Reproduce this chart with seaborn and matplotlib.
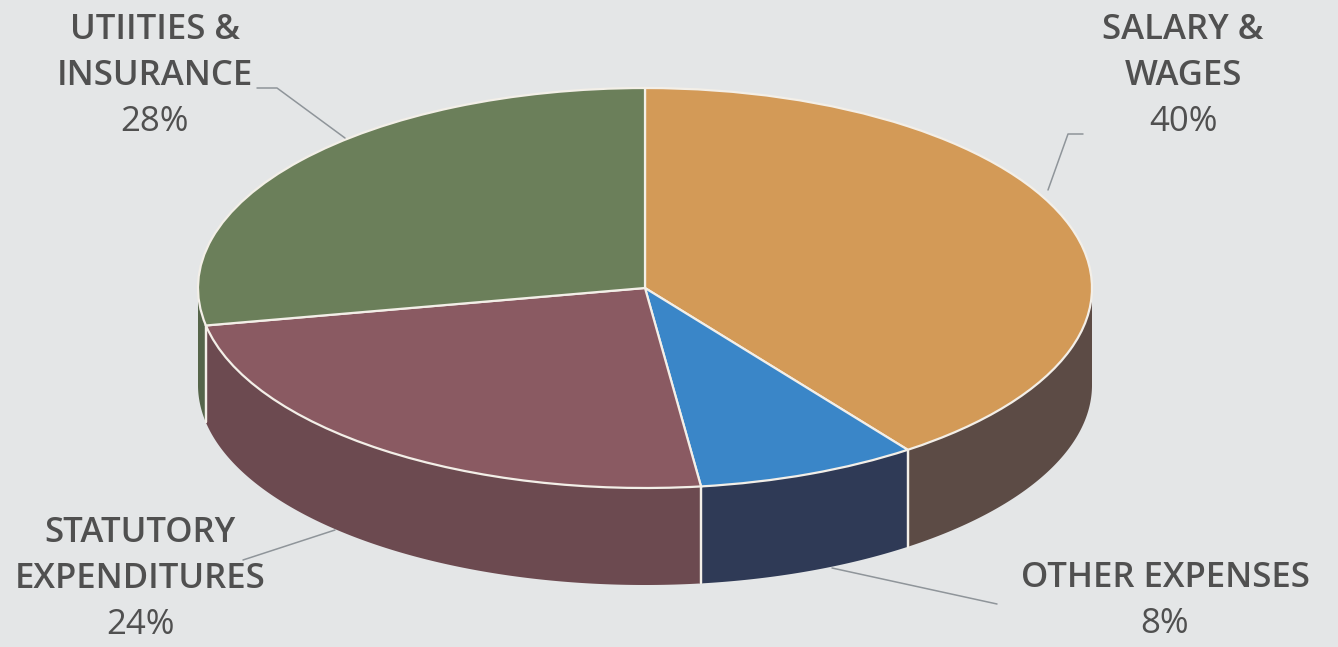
import numpy as np
import matplotlib
matplotlib.use("Agg")
import matplotlib.pyplot as plt
from matplotlib.lines import Line2D
import seaborn as sns

# ---- data ----
categories = ["SALARY &\nWAGES", "OTHER EXPENSES", "STATUTORY\nEXPENDITURES", "UTIITIES &\nINSURANCE"]
shares = [40, 8, 24, 28]
pct_labels = ["40%", "8%", "24%", "28%"]
top_colors = ["#D39A57", "#3A86C8", "#8A5A62", "#6B7F5A"]
side_colors = ["#5C4B45", "#2F3A56", "#6C4A50", "#55654A"]

sns.set_theme(style="white")
plt.rcParams["font.family"] = ["Open Sans", "DejaVu Sans"]

W, H = 1338, 647
bg = "#E4E6E7"
fig = plt.figure(figsize=(W / 100, H / 100), dpi=100)
fig.patch.set_facecolor(bg)
ax = fig.add_axes([0, 0, 1, 1])
ax.set_facecolor(bg)

# layout (pixels)
cx_px, cy_px, rx_px, ry_px, depth_px = 645, 288, 447, 200, 97
depth = depth_px / ry_px

wedges, _ = ax.pie(shares, colors=top_colors, startangle=90, counterclock=False, radius=1,
                   wedgeprops=dict(edgecolor="#F3EFE8", linewidth=1.6, zorder=3))
ax.set_aspect("auto")
ax.set_xlim(-cx_px / rx_px, (W - cx_px) / rx_px)
ax.set_ylim(-(H - cy_px) / ry_px, cy_px / ry_px)
ax.axis("off")

# side walls for the visible (front) half
for w, sc in zip(wedges, side_colors):
    t1, t2 = w.theta1, w.theta2
    for lo, hi in [(-180, 0), (180, 360), (-540, -360)]:
        a, b = max(t1, lo), min(t2, hi)
        if b > a:
            t = np.radians(np.linspace(a, b, 200))
            xs = np.concatenate([np.cos(t), np.cos(t[::-1])])
            ys = np.concatenate([np.sin(t), np.sin(t[::-1]) - depth])
            ax.fill(xs, ys, color=sc, zorder=1, lw=0)
# white separators on the side wall
for w in wedges:
    for ang in (w.theta1, w.theta2):
        a = ang % 360
        if 180 < a < 360 and abs(a - 180) > 3:
            r = np.radians(a)
            ax.plot([np.cos(r), np.cos(r)], [np.sin(r), np.sin(r) - depth],
                    color="#F3EFE8", lw=1.6, zorder=2)

# ---- labels ----
def fx(px):
    return px / W

def fy(py):
    return 1 - py / H

label_pos = {  # center x, first line y (pixels)
    0: (1183, 30),
    1: (1165, 578),
    2: (140, 533),
    3: (155, 30),
}
line_gap = 46
txt_color = "#505050"
for i, (cat, pct) in enumerate(zip(categories, pct_labels)):
    x0, y0 = label_pos[i]
    lines = cat.split("\n")
    for j, ln in enumerate(lines):
        fig.text(fx(x0), fy(y0 + j * line_gap), ln, ha="center", va="center",
                 fontsize=25, fontweight="semibold", color=txt_color)
    fig.text(fx(x0), fy(y0 + len(lines) * line_gap), pct, ha="center", va="center",
             fontsize=25, fontweight="normal", color=txt_color)

leaders = [
    [(1083, 134), (1068, 134), (1048, 190)],
    [(997, 604), (832, 568)],
    [(243, 560), (335, 530)],
    [(257, 88), (277, 88), (345, 138)],
]
for pts in leaders:
    xs = [fx(p[0]) for p in pts]
    ys = [fy(p[1]) for p in pts]
    fig.add_artist(Line2D(xs, ys, color="#8F959A", lw=1.1))

fig.savefig("out.png", dpi=100, facecolor=bg)
